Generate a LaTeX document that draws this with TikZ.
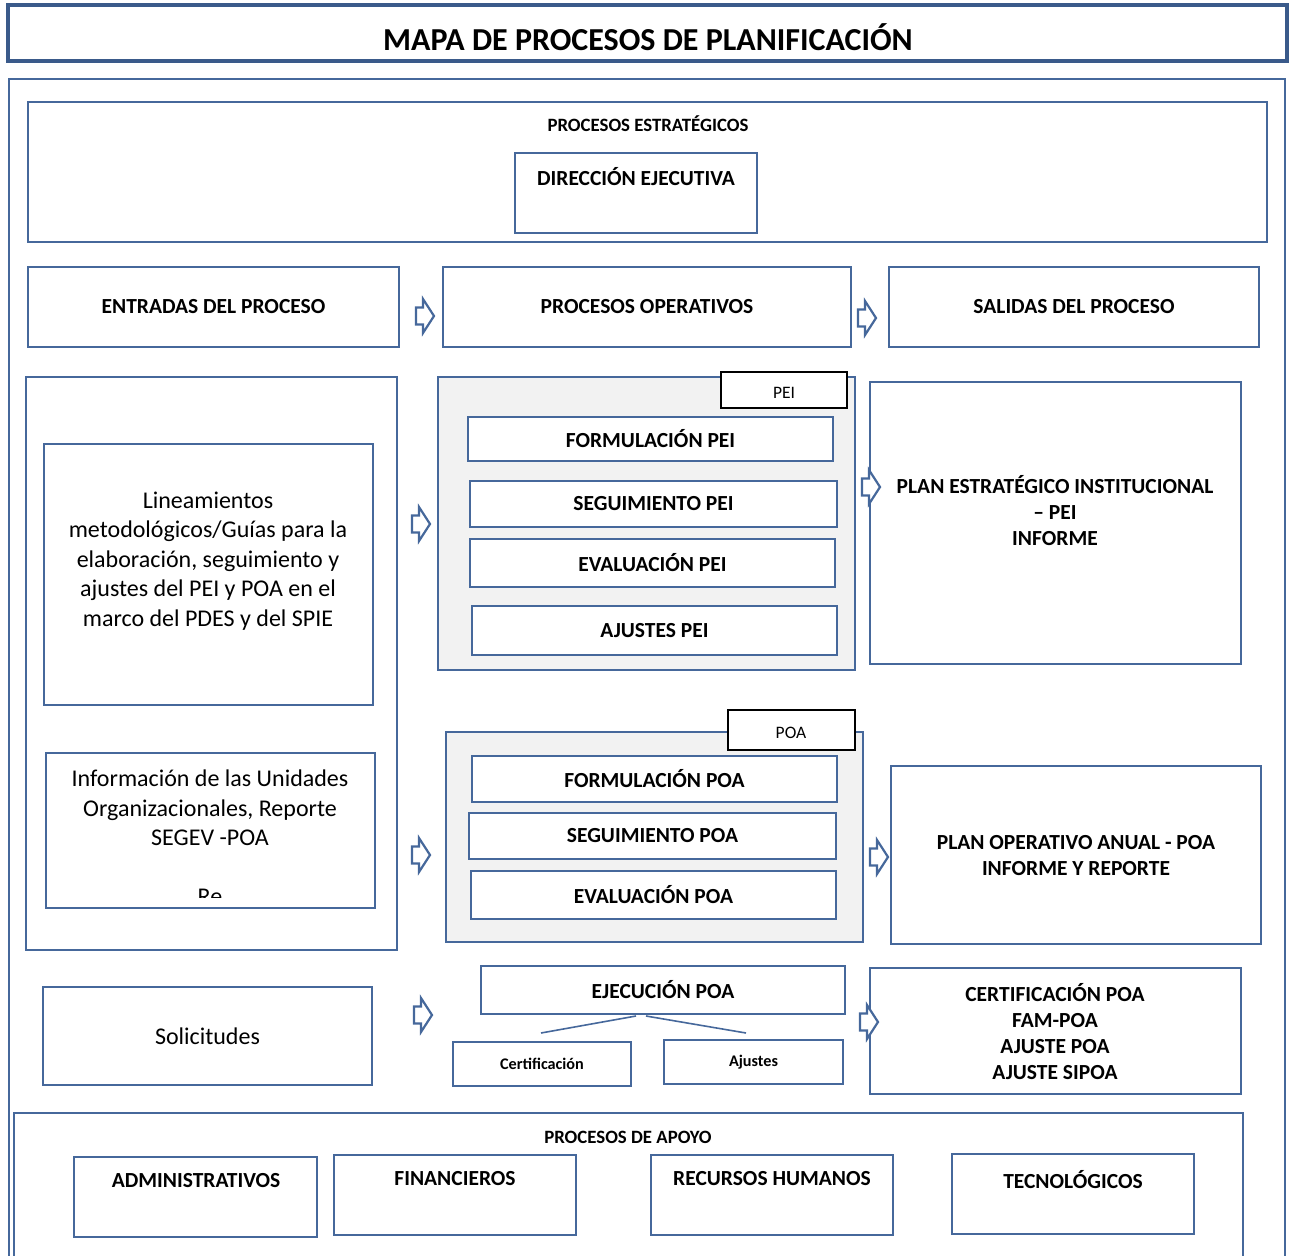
\documentclass[tikz,border=0pt]{standalone}
\usepackage{fontspec}
\setmainfont{Carlito}
\usetikzlibrary{fit,calc}
\definecolor{bord}{RGB}{70,104,155}
\definecolor{tbord}{RGB}{58,90,138}
\definecolor{grp}{RGB}{242,242,242}
\tikzset{
 box/.style={draw=bord, line width=1.8pt, fill=white, inner sep=0pt},
 grpbox/.style={draw=bord, line width=1.8pt, fill=grp, inner sep=0pt},
 tabbox/.style={draw=black, line width=1.2pt, fill=white, inner sep=0pt},
 bl/.style={font=\fontsize{21.5}{26}\selectfont\bfseries, align=center, inner sep=0pt},
 sbl/.style={font=\fontsize{18.8}{22}\selectfont\bfseries, inner sep=0pt},
 reg/.style={font=\fontsize{24}{29.5}\selectfont, align=center, inner sep=0pt},
 smallbl/.style={font=\fontsize{16.2}{19}\selectfont\bfseries, inner sep=0pt},
 tabtxt/.style={font=\fontsize{17.5}{20}\selectfont, inner sep=0pt},
 barrow/.pic={\draw[bord, line width=2.2pt, line join=miter, fill=white]
   (-8,-8.5)--(-1,-8.5)--(-1,-17)--(10,0)--(-1,17)--(-1,8.5)--(-8,8.5)--cycle;},
 link/.style={draw=bord, line width=1.6pt}
}
\begin{document}
\begin{tikzpicture}[x=1pt,y=-1pt]
\useasboundingbox (0,0) rectangle (1295,1255);
\clip (0,0) rectangle (1295,1255);
% title
\node[draw=tbord, line width=3.5pt, fill=white, inner sep=0pt, fit={(8,5)(1287,61)}] (titlebox) {};
\node[font=\fontsize{32}{34}\selectfont\bfseries, inner sep=0pt] (title) at (648,37) {MAPA DE PROCESOS DE PLANIFICACIÓN};
% outer container
\node[draw=bord, line width=2pt, inner sep=0pt, fit={(9,79)(1285,1290)}] (outer) {};
% estrategicos
\node[box, fit={(28,102)(1267,242)}] (estr) {};
\node[sbl] (estrt) at (648,124) {PROCESOS ESTRATÉGICOS};
\node[box, fit={(515,153)(757,233)}] (dir) {};
\node[bl] (dirt) at (636,177) {DIRECCIÓN EJECUTIVA};
% header row
\node[box, fit={(28,267)(399,347)}] (entr) {};
\node[bl] at (entr.center) (entrt) {ENTRADAS DEL PROCESO};
\node[box, fit={(443,267)(851,347)}] (oper) {};
\node[bl] at (oper.center) (opert) {PROCESOS OPERATIVOS};
\node[box, fit={(889,267)(1259,347)}] (sal) {};
\node[bl] at (sal.center) (salt) {SALIDAS DEL PROCESO};
% left big box
\node[box, fit={(26,377)(397,950)}] (left) {};
\node[box, fit={(44,444)(373,705)}] (lin) {};
\node[reg] (lint) at (208,561) {Lineamientos\\metodológicos/Guías para la\\elaboración, seguimiento y\\ajustes del PEI y POA en el\\marco del PDES y del SPIE};
\node[box, fit={(46,753)(375,908)}] (info) {};
\node[reg] (infot) at (210,808) {Información de las Unidades\\Organizacionales, Reporte\\SEGEV -POA};
\begin{scope}
\clip (47,754) rectangle (374,897.5);
\node[reg] (re) at (210,897) {Re};
\end{scope}
% PEI group
\node[grpbox, fit={(438,377)(855,670)}] (peig) {};
\node[box, fit={(468,417)(833,461)}] (fpei) {};
\node[bl] at (fpei.center) (fpeit) {FORMULACIÓN PEI};
\node[box, fit={(470,481)(837,527)}] (spei) {};
\node[bl] at (spei.center) (speit) {SEGUIMIENTO PEI};
\node[box, fit={(470,539)(835,587)}] (epei) {};
\node[bl] at (epei.center) (epeit) {EVALUACIÓN PEI};
\node[box, fit={(472,606)(837,655)}] (apei) {};
\node[bl] at (apei.center) (apeit) {AJUSTES PEI};
\node[tabbox, fit={(721,372)(847,408)}] (peitab) {};
\node[tabtxt] at (784,393) (peitabt) {PEI};
% PEI output
\node[box, fit={(870,382)(1241,664)}] (pei) {};
\node[bl] (peit) at (1055,511) {PLAN ESTRATÉGICO INSTITUCIONAL\\– PEI\\INFORME};
% POA group
\node[grpbox, fit={(446,732)(863,942)}] (poag) {};
\node[box, fit={(472,756)(837,802)}] (fpoa) {};
\node[bl] at (fpoa.center) (fpoat) {FORMULACIÓN POA};
\node[box, fit={(469,813)(836,859)}] (spoa) {};
\node[bl] at (spoa.center) (spoat) {SEGUIMIENTO POA};
\node[box, fit={(471,871)(836,919)}] (epoa) {};
\node[bl] at (epoa.center) (epoat) {EVALUACIÓN POA};
\node[tabbox, fit={(728,710)(855,750)}] (poatab) {};
\node[tabtxt] at (791,733) (poatabt) {POA};
% POA output
\node[box, fit={(891,766)(1261,944)}] (poa) {};
\node[bl] (poat) at (1076,856) {PLAN OPERATIVO ANUAL - POA\\INFORME Y REPORTE};
% ejecucion row
\node[box, fit={(43,987)(372,1085)}] (sol) {};
\node[reg] at (sol.center) (solt) {Solicitudes};
\node[box, fit={(481,966)(845,1014)}] (ejec) {};
\node[bl] at (ejec.center) (eject) {EJECUCIÓN POA};
\node[box, fit={(453,1042)(631,1086)}] (cert) {};
\node[smallbl] at (cert.center) (certt) {Certificación};
\node[box, fit={(664,1040)(843,1084)}] (aju) {};
\node[smallbl] at (aju.center) (ajut) {Ajustes};
\coordinate (e1) at (636,1016);
\coordinate (e2) at (646,1016);
\coordinate (c1) at (541,1033);
\coordinate (c2) at (746,1033);
\draw[link] (e1) -- (c1);
\draw[link] (e2) -- (c2);
\node[box, fit={(870,968)(1241,1094)}] (certo) {};
\node[bl] (certot) at (1055,1032) {CERTIFICACIÓN POA\\FAM-POA\\AJUSTE POA\\AJUSTE SIPOA};
% apoyo
\node[box, fit={(14,1113)(1243,1290)}] (apoyo) {};
\node[sbl] (apoyot) at (628,1137) {PROCESOS DE APOYO};
\node[box, fit={(74,1157)(317,1237)}] (adm) {};
\node[bl] (admt) at (196,1181) {ADMINISTRATIVOS};
\node[box, fit={(334,1155)(576,1235)}] (fin) {};
\node[bl] (fint) at (455,1179) {FINANCIEROS};
\node[box, fit={(651,1155)(893,1235)}] (rh) {};
\node[bl] (rht) at (772,1179) {RECURSOS HUMANOS};
\node[box, fit={(952,1154)(1194,1234)}] (tec) {};
\node[bl] (tect) at (1073,1180) {TECNOLÓGICOS};
% block arrows
\pic (a1) at (424,316) {barrow};
\pic (a2) at (866,318) {barrow};
\pic (a3) at (420,524) {barrow};
\pic (a4) at (870,487) {barrow};
\pic (a5) at (420,855) {barrow};
\pic (a6) at (878,857) {barrow};
\pic (a7) at (422,1015) {barrow};
\pic (a8) at (868,1022) {barrow};
\end{tikzpicture}
\end{document}
